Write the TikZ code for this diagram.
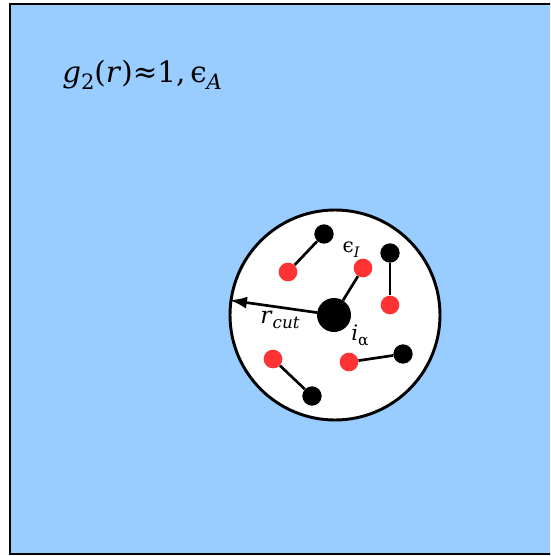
\documentclass[tikz,border=0pt]{standalone}
\usepackage{fontspec}
\setmainfont{DejaVu Serif}
\usetikzlibrary{arrows.meta}

\definecolor{cellblue}{RGB}{153,204,255}
\definecolor{atomred}{RGB}{255,51,51}

\newcommand{\lowsub}[1]{\raisebox{-0.45ex}{\scalebox{0.72}{#1}}}

\begin{document}
\begin{tikzpicture}[
      x=0.75pt, y=-0.75pt,
      blackatom/.style={circle, fill=black, inner sep=0pt, minimum size=14.5pt},
      redatom/.style={circle, fill=atomred, inner sep=0pt, minimum size=14pt},
      ionatom/.style={circle, fill=black, inner sep=0pt, minimum size=25.5pt},
      bond/.style={line width=2pt},
      lbl/.style={inner sep=0pt, font=\fontsize{13}{15}\selectfont}
    ]

    \useasboundingbox (0,0) rectangle (550,556);
    \clip (0,0) rectangle (550,556);

    % simulation box
    \draw[line width=2.2pt, fill=cellblue] (10,4) rectangle (562,554);
    \node[anchor=base west, inner sep=0pt, font=\fontsize{22}{26}\selectfont] (bulk) at (62,83)
      {\textit{g}\lowsub{2}(\textit{r})≈1,\,ϵ\lowsub{\itshape A}};

    % cutoff sphere
    \node[draw, line width=2.2pt, circle, fill=white, inner sep=0pt,
          minimum size=157.5pt] (cut) at (335,315) {};

    % central ion and molecules
    \node[ionatom]   (ion) at (334,315) {};
    \node[blackatom] (b1)  at (324,234) {};
    \node[redatom]   (r1)  at (288,272) {};
    \node[redatom]   (r2)  at (363,268) {};
    \node[blackatom] (b2)  at (390,253) {};
    \node[redatom]   (r3)  at (390,305) {};
    \node[blackatom] (b3)  at (403,354) {};
    \node[redatom]   (r4)  at (349,362) {};
    \node[redatom]   (r5)  at (273,359) {};
    \node[blackatom] (b4)  at (312,396) {};

    \draw[bond] (b1) -- (r1);
    \draw[bond] (ion) -- (r2);
    \draw[bond] (b2) -- (r3);
    \draw[bond] (r4) -- (b3);
    \draw[bond] (r5) -- (b4);

    \draw[line width=2pt, -{Latex[length=13pt, width=9pt]}] (ion) -- (cut.172);

    \node[lbl, font=\fontsize{15}{17}\selectfont] (epsI) at (351,250) {ϵ\lowsub{\itshape I}};
    \node[lbl, font=\fontsize{17.5}{20}\selectfont] (rcut) at (280,320) {\textit{r}\lowsub{\itshape cut}};
    \node[lbl, font=\fontsize{16}{18}\selectfont] (ialpha) at (360,335) {\textit{i}\lowsub{α}};
  \end{tikzpicture}
\end{document}
